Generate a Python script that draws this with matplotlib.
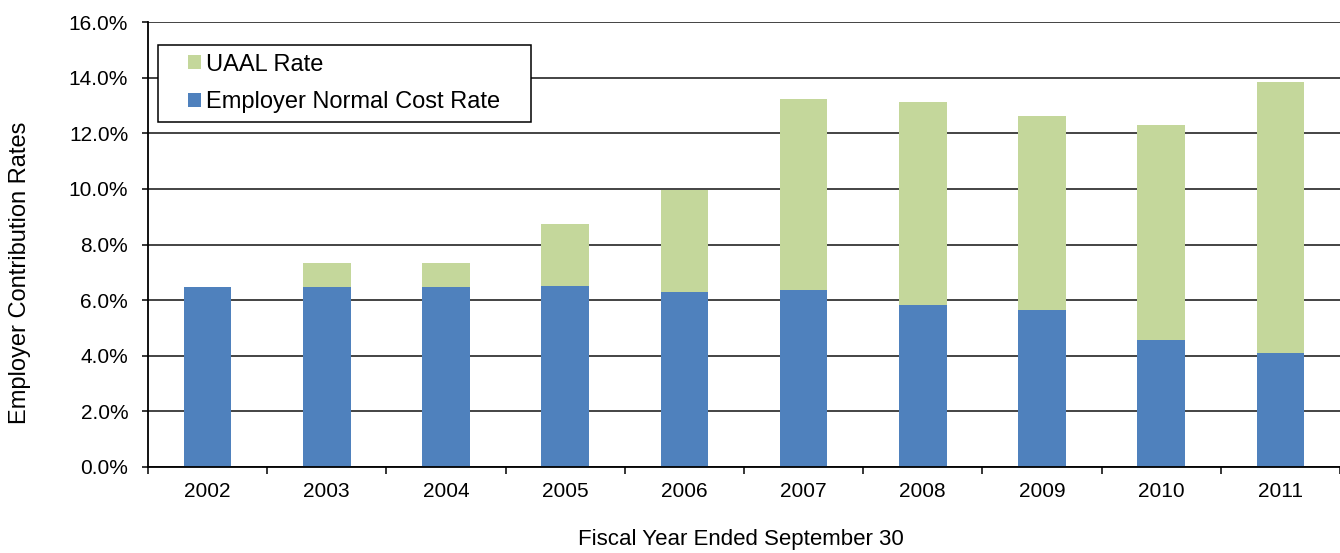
import matplotlib
matplotlib.use("Agg")
import matplotlib.pyplot as plt
from matplotlib.patches import Patch, Rectangle
from matplotlib.ticker import FuncFormatter

plt.rcParams['font.family'] = ['Liberation Sans', 'DejaVu Sans']

# Employer contribution rates (% of payroll)
years = ['2002', '2003', '2004', '2005', '2006', '2007', '2008', '2009', '2010', '2011']
normal_cost = [6.46, 6.46, 6.46, 6.51, 6.29, 6.36, 5.82, 5.64, 4.57, 4.09]
uaal_rate = [0.00, 0.89, 0.89, 2.24, 3.67, 6.87, 7.30, 6.99, 7.74, 9.75]

blue = '#4F81BD'
green = '#C4D79B'
tick_fs = 15
leg_fs = 17

fig = plt.figure(figsize=(13.4, 5.53), dpi=100)
ax = fig.add_axes([148 / 1340, 1 - 467 / 553, 1192 / 1340, 445 / 553])

x = list(range(len(years)))
ax.bar(x, normal_cost, width=0.4, color=blue, zorder=3)
ax.bar(x, uaal_rate, width=0.4, bottom=normal_cost, color=green, zorder=3)

ax.set_xlim(-0.5, len(years) - 0.5)
ax.set_ylim(0, 16)
ax.set_yticks([0, 2, 4, 6, 8, 10, 12, 14, 16])
ax.yaxis.set_major_formatter(FuncFormatter(lambda v, p: '{:.1f}%'.format(v)))
ax.yaxis.grid(True, color='#111111', linewidth=1.1, zorder=0)
ax.set_axisbelow(True)

ax.set_xticks(x)
ax.set_xticklabels(years)
ax.set_xticks([i - 0.5 for i in range(len(years) + 1)], minor=True)
ax.tick_params(axis='x', which='major', length=0, pad=11, labelsize=tick_fs)
ax.tick_params(axis='x', which='minor', length=4.8, width=1.1, direction='out')
ax.tick_params(axis='y', length=4.3, width=1.1, direction='out', pad=10, labelsize=tick_fs)

for s in ['top', 'right']:
    ax.spines[s].set_visible(False)
for s in ['left', 'bottom']:
    ax.spines[s].set_linewidth(1.3)
    ax.spines[s].set_zorder(4)

fig.text(20 / 1340, 1 - 273 / 553, 'Employer Contribution Rates', rotation=90,
         ha='center', va='center', fontsize=17)
fig.text(741 / 1340, 1 - 539 / 553, 'Fiscal Year Ended September 30',
         ha='center', va='center', fontsize=16)

# legend frame drawn separately so the padding matches
bx0 = (158.3 - 148) / 1192
by0 = (467 - 121.7) / 445
bw = 372.4 / 1192
bh = 76.7 / 445
ax.add_patch(Rectangle((bx0, by0), bw, bh, transform=ax.transAxes, facecolor='white',
                       edgecolor='black', linewidth=1.1, zorder=5))
handles = [Patch(facecolor=green, edgecolor='none'), Patch(facecolor=blue, edgecolor='none')]
leg = ax.legend(handles, ['UAAL Rate', 'Employer Normal Cost Rate'], loc='center',
                bbox_to_anchor=(bx0 + bw / 2, by0 + bh / 2), frameon=False, fontsize=leg_fs,
                handlelength=0.51, handleheight=0.51, handletextpad=0.25, labelspacing=0.66,
                borderpad=0)
leg.set_zorder(6)

fig.savefig('out.png', dpi=100)
